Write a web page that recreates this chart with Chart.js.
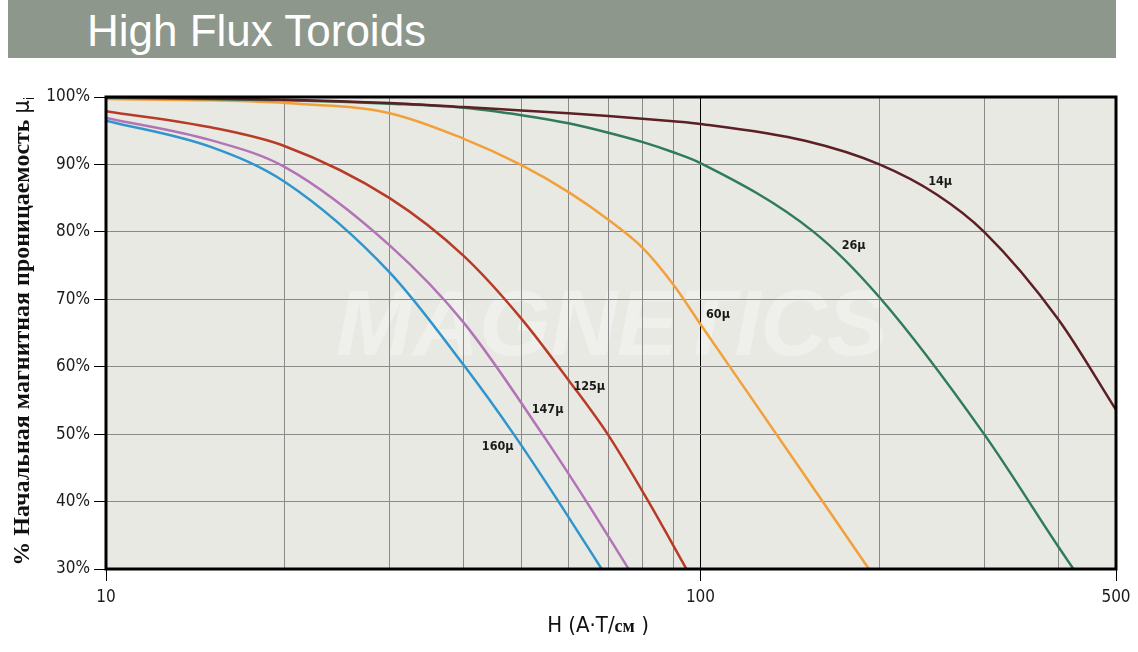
<!DOCTYPE html>
<html>
<head>
<meta charset="utf-8">
<script src="https://cdn.jsdelivr.net/npm/chart.js@4.4.0/dist/chart.umd.min.js"></script>
<style>
  html, body { margin: 0; padding: 0; background: #fff; }
  #wrap { position: relative; width: 1138px; height: 652px; }
  #band { position: absolute; left: 8px; top: 0; width: 1108px; height: 58px; background: #8d978b; }
  #band h1 { margin: 0; position: absolute; left: 79px; top: 9px; font: 44px/1 "Liberation Sans", Arial, sans-serif; color: #fff; font-weight: normal; }
  canvas { position: absolute; left: 0; top: 0; }
</style>
</head>
<body>
<div id="wrap">
  <div id="band"><h1>High Flux Toroids</h1></div>
  <canvas id="chart" width="1138" height="652"></canvas>
</div>
<script>
/* ===============================
   DATA
   =============================== */
const xTicks = [10, 20, 30, 40, 50, 60, 70, 80, 90, 100, 200, 300, 400, 500];
const xLabels = [10, 100, 500];

const h14 = [10, 20, 30, 40, 50, 60, 70, 90, 100, 150, 200, 250, 300, 400, 500];
const p14 = [100, 99.6, 99.1, 98.5, 98.0, 97.6, 97.2, 96.4, 96.0, 93.5, 90.0, 85.5, 80.0, 67.0, 53.6];

const h26 = [10, 20, 30, 40, 50, 60, 70, 80, 90, 100, 155, 200, 300, 400, 424];
const p26 = [99.9, 99.5, 99.0, 98.4, 97.3, 96.1, 94.7, 93.3, 91.8, 90.2, 80.0, 70.3, 50.0, 33.3, 30];

const h60 = [10, 15, 20, 30, 40, 50, 60, 70, 80, 90, 100, 120, 150, 192];
const p60 = [99.7, 99.5, 99.1, 97.6, 93.8, 89.9, 85.9, 81.8, 77.6, 72.2, 66.3, 56.2, 43.8, 30];

const h125 = [10, 15, 20, 30, 40, 50, 60, 69.8, 81.5, 94.7];
const p125 = [97.9, 95.5, 92.7, 85.0, 76.4, 67.1, 58.0, 50.0, 40.2, 30];

const h147 = [10, 15, 20, 30, 40, 54.2, 64.3, 75.7];
const p147 = [96.9, 93.6, 89.6, 78.0, 66.5, 50.0, 40.0, 30];

const h160 = [10, 15, 20, 30, 40, 48.5, 57.7, 68.2];
const p160 = [96.5, 92.6, 87.4, 74.0, 60.2, 50.0, 40.0, 30];

const seriesNames = ["14\u03bc", "26\u03bc", "60\u03bc", "125\u03bc", "147\u03bc", "160\u03bc"];
const seriesColors = ["#5b1f24", "#2f7b5a", "#f2a03a", "#b83b27", "#b274b6", "#2f95cc"];
// label anchor points (H, %) for each curve label
const labelH = [253, 181, 107, 65, 55.3, 45.6];
const labelP = [87.5, 78.0, 67.7, 57.1, 53.6, 48.2];

const hs = [h14, h26, h60, h125, h147, h160];
const ps = [p14, p26, p60, p125, p147, p160];

const tickFont = "'Liberation Sans Narrow', 'DejaVu Sans Condensed', 'Liberation Sans', sans-serif";

/* ===============================
   PLUGINS
   =============================== */
const decorPlugin = {
    id: "decor",
    beforeDraw(chart) {
        const { ctx, chartArea: a } = chart;
        ctx.save();
        ctx.fillStyle = "#e9e9e4";
        ctx.fillRect(a.left, a.top, a.right - a.left, a.bottom - a.top);
        // faint watermark
        ctx.fillStyle = "rgba(255,255,255,0.3)";
        ctx.font = "italic bold 92px 'Liberation Sans', sans-serif";
        ctx.textAlign = "center";
        ctx.textBaseline = "middle";
        ctx.fillText("MAGNETICS", 612, 330);
        ctx.restore();
    },
    afterDraw(chart) {
        const { ctx, chartArea: a, scales } = chart;
        ctx.save();
        ctx.strokeStyle = "#000";
        ctx.lineWidth = 3;
        ctx.strokeRect(a.left, a.top, a.right - a.left, a.bottom - a.top);

        // curve labels
        ctx.fillStyle = "#1a1a1a";
        ctx.font = "bold 12.5px " + tickFont;
        ctx.textAlign = "center";
        ctx.textBaseline = "middle";
        seriesNames.forEach((n, i) => {
            ctx.fillText(n, scales.x.getPixelForValue(labelH[i]), scales.y.getPixelForValue(labelP[i]));
        });

        // y axis title
        ctx.translate(23, 330);
        ctx.rotate(-Math.PI / 2);
        ctx.textAlign = "left";
        ctx.textBaseline = "middle";
        const t = "% Начальная магнитная проницаемость ";
        const serif = "bold 24px 'Liberation Serif', serif";
        ctx.font = serif;
        const w1 = ctx.measureText(t).width;
        ctx.font = "23px " + tickFont;
        const w2 = ctx.measureText("\u03bc").width;
        const start = -(w1 + w2 + 6) / 2;
        ctx.font = serif;
        ctx.fillStyle = "#111";
        ctx.fillText(t, start, 0);
        ctx.font = "23px " + tickFont;
        ctx.fillText("\u03bc", start + w1, 0);
        ctx.font = "14px " + tickFont;
        ctx.fillText("i", start + w1 + w2, 7);
        ctx.restore();

        // x axis title
        ctx.save();
        ctx.fillStyle = "#111";
        ctx.textBaseline = "alphabetic";
        const a1 = "H (A\u00b7T/", a2 = "см", a3 = " )";
        ctx.font = "22px " + tickFont;
        const wa1 = ctx.measureText(a1).width, wa3 = ctx.measureText(a3).width;
        ctx.font = "bold 18px 'Liberation Serif', serif";
        const wa2 = ctx.measureText(a2).width;
        let x0 = 598 - (wa1 + wa2 + wa3) / 2;
        ctx.font = "22px " + tickFont;
        ctx.fillText(a1, x0, 632);
        ctx.font = "bold 18px 'Liberation Serif', serif";
        ctx.fillText(a2, x0 + wa1, 632);
        ctx.font = "22px " + tickFont;
        ctx.fillText(a3, x0 + wa1 + wa2, 632);
        ctx.restore();
    }
};

/* ===============================
   CHART
   =============================== */
const datasets = hs.map((h, i) => ({
    label: seriesNames[i],
    data: h.map((v, j) => ({ x: v, y: ps[i][j] })),
    borderColor: seriesColors[i],
    borderWidth: 2.5,
    pointRadius: 0,
    fill: false,
    cubicInterpolationMode: "monotone"
}));

new Chart(document.getElementById("chart"), {
    type: "line",
    data: { datasets },
    options: {
        responsive: false,
        animation: false,
        layout: { padding: { left: 0, right: 22, top: 97, bottom: 0 } },
        plugins: { legend: { display: false }, tooltip: { enabled: false } },
        scales: {
            x: {
                type: "logarithmic",
                min: 10,
                max: 500,
                afterBuildTicks: s => { s.ticks = xTicks.map(v => ({ value: v })); },
                afterFit: s => { s.height = 83; },
                border: { display: false },
                grid: {
                    color: c => (c.tick && c.tick.value === 100 ? "#000" : "#8a8a8a"),
                    lineWidth: 1,
                    tickLength: 12,
                    tickColor: c => (c.tick && xLabels.includes(c.tick.value) ? "#000" : "rgba(0,0,0,0)")
                },
                ticks: {
                    autoSkip: false,
                    maxRotation: 0,
                    padding: 6,
                    color: "#1a1a1a",
                    font: { family: tickFont, size: 17 },
                    callback: v => (xLabels.includes(v) ? String(v) : "")
                }
            },
            y: {
                min: 30,
                max: 100,
                afterFit: s => { s.width = 106; },
                border: { display: false },
                grid: {
                    color: "#8a8a8a",
                    lineWidth: 1,
                    tickLength: 12,
                    tickColor: "#000"
                },
                ticks: {
                    stepSize: 10,
                    padding: 4,
                    color: "#1a1a1a",
                    font: { family: tickFont, size: 17 },
                    callback: v => v + "%"
                }
            }
        }
    },
    plugins: [decorPlugin]
});
</script>
</body>
</html>
